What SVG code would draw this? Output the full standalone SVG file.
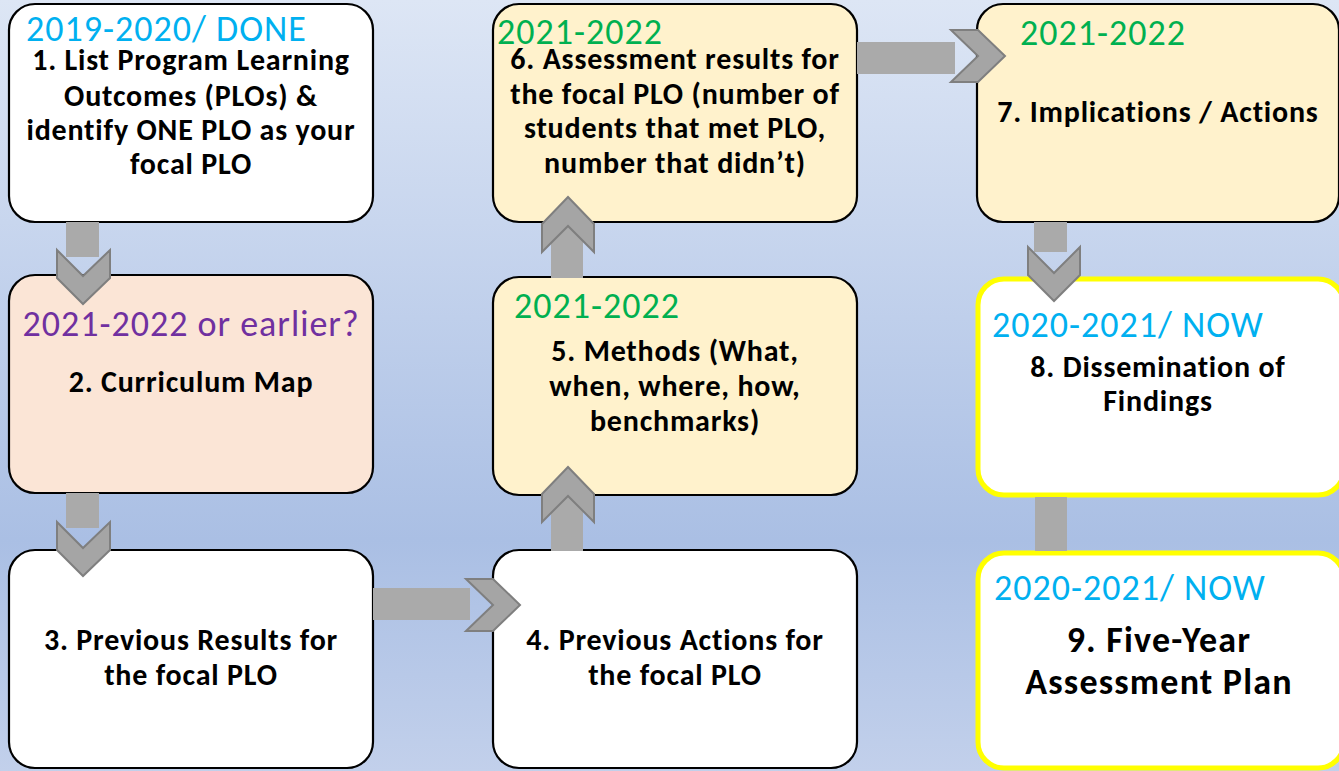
<svg xmlns="http://www.w3.org/2000/svg" width="1339" height="771" viewBox="0 0 1339 771">
  <defs>
    <linearGradient id="bg" x1="0" y1="0" x2="0" y2="1">
      <stop offset="0" stop-color="#dde6f5"/>
      <stop offset="0.7" stop-color="#aabfe4"/>
      <stop offset="1" stop-color="#c2d0eb"/>
    </linearGradient>
    <style>
      .box { stroke: #000; stroke-width: 2.2; }
      .hl { stroke: #ffff00; stroke-width: 5; fill: #fff; }
      .white { fill: #fff; }
      .peach { fill: #fbe5d6; }
      .cream { fill: #fff2cc; }
      .shaft { fill: #aaaaaa; }
      .head { fill: #a5a5a5; stroke: #7f7f7f; stroke-width: 2; stroke-linejoin: miter; }
      text { font-family: Carlito, Lato, "Liberation Sans", sans-serif; }
      .yr { font-size: 36px; letter-spacing: 1px; }
      .cyan { fill: #00b0f0; }
      .green { fill: #00b050; }
      .purple { fill: #7030a0; }
      .body { font-size: 30px; letter-spacing: 0.8px; font-weight: bold; fill: #000; text-anchor: middle; }
      .big { font-size: 36px; letter-spacing: 1.2px; font-weight: bold; fill: #000; text-anchor: middle; }
    </style>
  </defs>

  <rect x="0" y="0" width="1339" height="771" fill="url(#bg)"/>

  <g id="node1">
    <rect class="box white" x="9" y="4" width="364" height="218" rx="26"/>
    <text class="yr cyan" x="26" y="41">2019-2020/ DONE</text>
    <text class="body" x="191" y="70">1. List Program Learning</text>
    <text class="body" x="191" y="106">Outcomes (PLOs) &amp;</text>
    <text class="body" x="191" y="140">identify ONE PLO as your</text>
    <text class="body" x="191" y="174">focal PLO</text>
  </g>

  <g id="node2">
    <rect class="box peach" x="9" y="275" width="364" height="218" rx="26"/>
    <text class="yr purple" x="191" y="336" text-anchor="middle">2021-2022 or earlier?</text>
    <text class="body" x="191" y="392">2. Curriculum Map</text>
  </g>

  <g id="node3">
    <rect class="box white" x="9" y="550" width="364" height="218" rx="26"/>
    <text class="body" x="191" y="650">3. Previous Results for</text>
    <text class="body" x="191" y="685">the focal PLO</text>
  </g>

  <g id="node4">
    <rect class="box white" x="493" y="550" width="364" height="218" rx="26"/>
    <text class="body" x="675" y="650">4. Previous Actions for</text>
    <text class="body" x="675" y="685">the focal PLO</text>
  </g>

  <g id="node5">
    <rect class="box cream" x="493" y="277" width="364" height="218" rx="26"/>
    <text class="yr green" x="514" y="318">2021-2022</text>
    <text class="body" x="675" y="361">5. Methods (What,</text>
    <text class="body" x="675" y="396">when, where, how,</text>
    <text class="body" x="675" y="431">benchmarks)</text>
  </g>

  <g id="node6">
    <rect class="box cream" x="493" y="4" width="364" height="218" rx="26"/>
    <text class="yr green" x="497" y="44">2021-2022</text>
    <text class="body" x="675" y="69">6. Assessment results for</text>
    <text class="body" x="675" y="104">the focal PLO (number of</text>
    <text class="body" x="675" y="138">students that met PLO,</text>
    <text class="body" x="675" y="173">number that didn’t)</text>
  </g>

  <g id="node7">
    <rect class="box cream" x="977" y="4" width="362" height="218" rx="26"/>
    <text class="yr green" x="1020" y="45">2021-2022</text>
    <text class="body" x="1158" y="122">7. Implications / Actions</text>
  </g>

  <g id="node8">
    <rect class="hl" x="978" y="279" width="366" height="216" rx="26"/>
    <text class="yr cyan" x="992" y="337">2020-2021/ NOW</text>
    <text class="body" x="1158" y="377">8. Dissemination of</text>
    <text class="body" x="1158" y="411">Findings</text>
  </g>

  <g id="node9">
    <rect class="hl" x="978" y="553" width="366" height="215" rx="26"/>
    <text class="yr cyan" x="994" y="600">2020-2021/ NOW</text>
    <text class="big" x="1159" y="652">9. Five-Year</text>
    <text class="big" x="1159" y="694">Assessment Plan</text>
  </g>

  <!-- grey block arrows, drawn last so the chevrons sit over the box edges -->
  <g id="connectors">
    <!-- 1 to 2 -->
    <rect class="shaft" x="66" y="222" width="33" height="35"/>
    <polygon class="head" points="57,250 83,276 110,250 110,278 83,304 57,278"/>
    <!-- 2 to 3 -->
    <rect class="shaft" x="66" y="493" width="33" height="35"/>
    <polygon class="head" points="57,522 83,548 110,522 110,550 83,576 57,550"/>
    <!-- 3 to 4 -->
    <rect class="shaft" x="373" y="588" width="97" height="32"/>
    <polygon class="head" points="466,579 493,605 466,631 493,631 520,605 493,579"/>
    <!-- 4 to 5 -->
    <rect class="shaft" x="551" y="495" width="32" height="56"/>
    <polygon class="head" points="542,522 568,496 594,522 594,494 568,467 542,494"/>
    <!-- 5 to 6 -->
    <rect class="shaft" x="551" y="222" width="32" height="56"/>
    <polygon class="head" points="542,252 568,226 594,252 594,224 568,197 542,224"/>
    <!-- 6 to 7 -->
    <rect class="shaft" x="857" y="42" width="98" height="32"/>
    <polygon class="head" points="951,30 978,56 951,82 978,82 1005,56 978,30"/>
    <!-- 7 to 8 -->
    <rect class="shaft" x="1034" y="222" width="33" height="30"/>
    <polygon class="head" points="1028,247 1054,273 1080,247 1080,275 1054,301 1028,275"/>
    <!-- 8 to 9 -->
    <rect class="shaft" x="1035" y="497" width="32" height="54"/>
  </g>
</svg>
